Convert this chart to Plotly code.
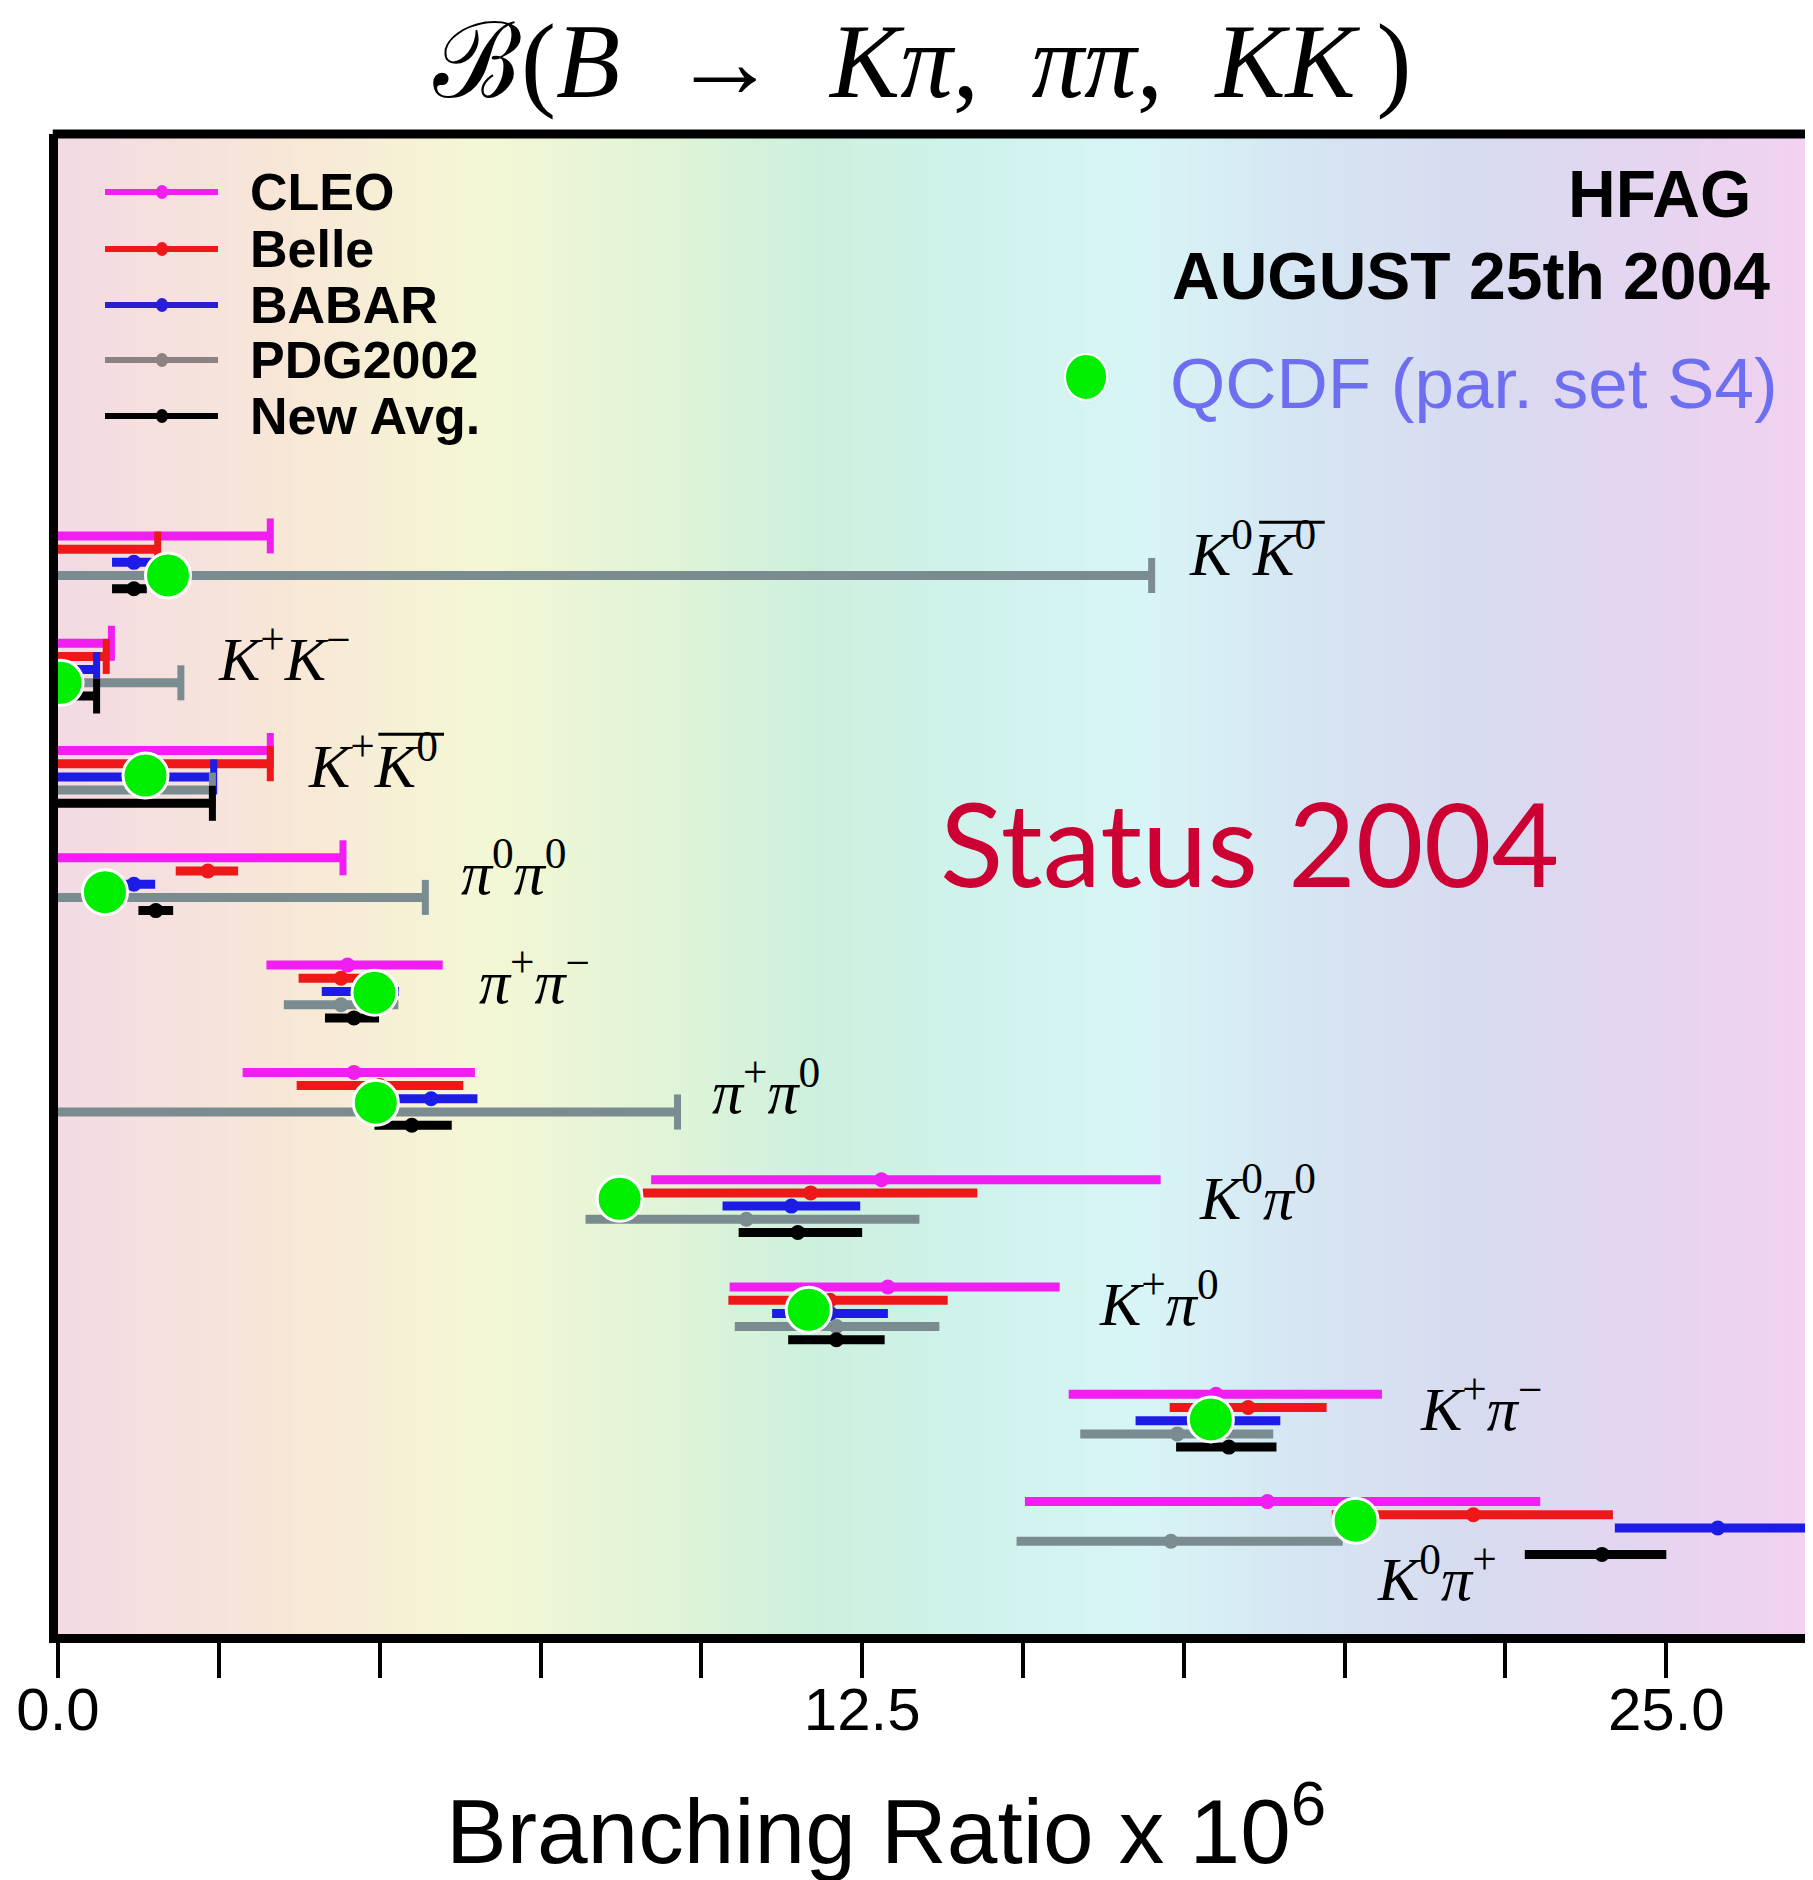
import numpy as np
import plotly.graph_objects as go

# ---------------- data ----------------
modes = ["K0K0bar", "K+K-", "K+K0bar", "pi0pi0", "pi+pi-", "pi+pi0",
         "K0pi0", "K+pi0", "K+pi-", "K0pi+"]
mode_labels = [
    "<i>K</i><sup>0</sup><i>K</i><sup>0</sup>",
    "<i>K</i><sup>+</sup><i>K</i><sup>−</sup>",
    "<i>K</i><sup>+</sup><i>K</i><sup>0</sup>",
    "<i>π</i><sup>0</sup><i>π</i><sup>0</sup>",
    "<i>π</i><sup>+</sup><i>π</i><sup>−</sup>",
    "<i>π</i><sup>+</sup><i>π</i><sup>0</sup>",
    "<i>K</i><sup>0</sup><i>π</i><sup>0</sup>",
    "<i>K</i><sup>+</sup><i>π</i><sup>0</sup>",
    "<i>K</i><sup>+</sup><i>π</i><sup>−</sup>",
    "<i>K</i><sup>0</sup><i>π</i><sup>+</sup>",
]
anti_k0_modes = [0, 2]          # labels whose second K0 carries a bar
experiments = ["CLEO", "Belle", "BABAR", "PDG2002", "New Avg."]

cleo_val = [None, None, None, None, 4.5, 4.6, 12.8, 12.9, 18.0, 18.8]
cleo_lo = [None, None, None, None, 1.26, 1.73, 3.58, 2.46, 2.29, 3.77]
cleo_hi = [None, None, None, None, 1.48, 1.88, 4.34, 2.67, 2.58, 4.24]
cleo_ul = [3.3, 0.83, 3.3, 4.43, None, None, None, None, None, None]

belle_val = [None, None, None, 2.33, 4.4, 5.0, 11.7, 12.0, 18.5, 22.0]
belle_lo = [None, None, None, 0.5, 0.66, 1.29, 2.61, 1.58, 1.22, 2.2]
belle_hi = [None, None, None, 0.47, 0.7, 1.3, 2.59, 1.83, 1.22, 2.17]
belle_ul = [1.55, 0.75, 3.3, None, None, None, None, None, None, None]

babar_val = [1.18, None, None, 1.18, 4.7, 5.8, 11.4, 12.0, 17.9, 25.8]
babar_lo = [0.34, None, None, 0.32, 0.6, 0.7, 1.07, 0.9, 1.15, 1.6]
babar_hi = [0.38, None, None, 0.33, 0.6, 0.72, 1.07, 0.9, 1.1, 1.6]
babar_ul = [None, 0.6, 2.42, None, None, None, None, None, None, None]

pdg_val = [None, None, None, None, 4.4, None, 10.7, 12.1, 17.4, 17.3]
pdg_lo = [None, None, None, None, 0.89, None, 2.5, 1.58, 1.51, 2.4]
pdg_hi = [None, None, None, None, 0.89, None, 2.69, 1.6, 1.49, 2.67]
pdg_ul = [17.0, 1.91, 2.4, 5.71, None, 9.63, None, None, None, None]

avg_val = [1.18, None, None, 1.52, 4.6, 5.5, 11.5, 12.1, 18.2, 24.0]
avg_lo = [0.34, None, None, 0.27, 0.45, 0.58, 0.92, 0.75, 0.82, 1.2]
avg_hi = [0.2, None, None, 0.27, 0.39, 0.62, 1.0, 0.75, 0.74, 1.0]
avg_ul = [None, 0.6, 2.4, None, None, None, None, None, None, None]

qcdf_val = [1.71, 0.04, 1.36, 0.73, 4.92, 4.94, 8.73, 11.67, 17.92, 20.17]

tick_vals = [0, 12.5, 25]
tick_text = ["0.0", "12.5", "25.0"]
minor_step = 2.5

# ---------------- layout helpers (placement / style) ----------------
ROW = 0.123                      # vertical spacing of rows within a group
qcdf_row = [3.0, 3.0, 1.9, 2.6, 2.1, 2.3, 1.45, 1.73, 1.9, 1.45]
label_x = [17.55, 2.46, 3.86, 6.24, 6.52, 10.13, 17.7, 16.15, 21.14, 20.47]
label_row = [1.0, 0.8, 0.8, 0.8, 0.9, 1.1, 1.0, 0.9, 0.7, 5.5]

colors = ["#f01ef0", "#ee1818", "#1c1ce6", "#7b8c90", "#000000"]
legend_colors = ["#f01ef0", "#ee1818", "#2a1fd0", "#8c8282", "#000000"]

series = [
    (cleo_val, cleo_lo, cleo_hi, cleo_ul),
    (belle_val, belle_lo, belle_hi, belle_ul),
    (babar_val, babar_lo, babar_hi, babar_ul),
    (pdg_val, pdg_lo, pdg_hi, pdg_ul),
    (avg_val, avg_lo, avg_hi, avg_ul),
]

XMAX = 27.28
YTOP = 3.746
YBOT = -10.234


def ypos(g, r):
    return -(g + r * ROW)


fig = go.Figure()

# background gradient
stops = [
    (0.0, "rgb(243,218,228)"), (0.138, "rgb(248,232,214)"), (0.241, "rgb(244,247,213)"),
    (0.343, "rgb(225,244,215)"), (0.432, "rgb(205,240,222)"), (0.514, "rgb(207,242,235)"),
    (0.616, "rgb(215,245,246)"), (0.719, "rgb(214,228,242)"), (0.821, "rgb(216,218,240)"),
    (0.924, "rgb(232,212,240)"), (1.0, "rgb(242,210,240)"),
]
bx = np.linspace(0, XMAX, 120)
fig.add_trace(go.Heatmap(
    x=bx, y=[YBOT - 1, YTOP + 1], z=[bx, bx], colorscale=stops,
    zmin=0, zmax=XMAX, showscale=False, hoverinfo="skip", zsmooth="best"))

for e, (vals, los, his, uls) in enumerate(series):
    lx, ly, px, py, cx, cy = [], [], [], [], [], []
    for g in range(len(modes)):
        y = ypos(g, e)
        if vals[g] is not None:
            lx += [vals[g] - los[g], vals[g] + his[g], None]
            ly += [y, y, None]
            px.append(vals[g]); py.append(y)
        elif uls[g] is not None:
            lx += [0, uls[g], None]
            ly += [y, y, None]
            cx.append(uls[g]); cy.append(y)
    fig.add_trace(go.Scatter(x=lx, y=ly, mode="lines",
                             line=dict(color=colors[e], width=9),
                             showlegend=False, hoverinfo="skip"))
    fig.add_trace(go.Scatter(x=cx, y=cy, mode="markers", showlegend=False,
                             marker=dict(symbol="line-ns", size=25,
                                         line=dict(color=colors[e], width=7))))
    fig.add_trace(go.Scatter(x=px, y=py, mode="markers", showlegend=False,
                             marker=dict(symbol="circle", size=15, color=colors[e])))

fig.add_trace(go.Scatter(
    x=qcdf_val, y=[ypos(g, qcdf_row[g]) for g in range(len(modes))],
    mode="markers", showlegend=False,
    marker=dict(symbol="circle", size=45, color="#00ee00",
                line=dict(color="white", width=3))))

shapes = []
# decay-mode labels
for g in range(len(modes)):
    fig.add_annotation(x=label_x[g], y=ypos(g, label_row[g]), text=mode_labels[g],
                       xref="x", yref="y", xanchor="left", yanchor="middle",
                       showarrow=False,
                       font=dict(family="Liberation Serif", size=62, color="black"))
for g in anti_k0_modes:
    yb = ypos(g, label_row[g]) + 0.25
    shapes.append(dict(type="line", xref="x", yref="y",
                       x0=label_x[g] + 1.12, x1=label_x[g] + 2.14, y0=yb, y1=yb,
                       line=dict(color="black", width=3)))

# ------------- figure geometry (screen px -> figure px; page body has 8px margin) -------------
OFF = 8
W, H = 1813 - OFF, 1880 - OFF
L, R, T, B = 50, 0, 126, 246
PW, PH = W - L - R, H - T - B


def px2paper(xs, ys):
    xf, yf = xs - OFF, ys - OFF
    return (xf - L) / PW, (H - B - yf) / PH


annots = []
# top frame line
shapes.append(dict(type="line", xref="paper", yref="paper", x0=-0.003, x1=1, y0=1, y1=1,
                   line=dict(color="black", width=9)))

# manual legend
leg_y = [192, 249, 305, 360, 416]
for i, name in enumerate(experiments):
    x0, y0 = px2paper(105, leg_y[i])
    x1, _ = px2paper(218, leg_y[i])
    xm, _ = px2paper(162, leg_y[i])
    shapes.append(dict(type="line", xref="paper", yref="paper", x0=x0, x1=x1, y0=y0, y1=y0,
                       line=dict(color=legend_colors[i], width=6)))
    shapes.append(dict(type="circle", xref="paper", yref="paper",
                       x0=xm - 6 / PW, x1=xm + 6 / PW, y0=y0 - 7 / PH, y1=y0 + 7 / PH,
                       fillcolor=legend_colors[i], line=dict(width=0)))
    tx, ty = px2paper(248, leg_y[i])
    annots.append(dict(x=tx, y=ty, xref="paper", yref="paper", text="<b>%s</b>" % name,
                       xanchor="left", yanchor="middle", showarrow=False,
                       font=dict(family="Liberation Sans", size=52, color="black")))

# HFAG text
hx, hy = px2paper(1753, 194)
annots.append(dict(x=hx, y=hy, xref="paper", yref="paper", text="<b>HFAG</b>",
                   xanchor="right", yanchor="middle", showarrow=False,
                   font=dict(family="Liberation Sans", size=66, color="black")))
ax_, ay_ = px2paper(1772, 276)
annots.append(dict(x=ax_, y=ay_, xref="paper", yref="paper", text="<b>AUGUST 25th 2004</b>",
                   xanchor="right", yanchor="middle", showarrow=False,
                   font=dict(family="Liberation Sans", size=66, color="black")))
qx, qy = px2paper(1168, 383)
annots.append(dict(x=qx, y=qy, xref="paper", yref="paper", text="QCDF (par. set S4)",
                   xanchor="left", yanchor="middle", showarrow=False,
                   font=dict(family="Liberation Sans", size=71, color="rgb(110,110,240)")))
gx, gy = px2paper(1086, 377)
shapes.append(dict(type="circle", xref="paper", yref="paper",
                   x0=gx - 21 / PW, x1=gx + 21 / PW, y0=gy - 23 / PH, y1=gy + 23 / PH,
                   fillcolor="#00ee00", line=dict(color="white", width=2)))

# Status 2004
sx, sy = px2paper(938, 842)
annots.append(dict(x=sx, y=sy, xref="paper", yref="paper", text="Status 2004",
                   xanchor="left", yanchor="middle", showarrow=False,
                   font=dict(family="Lato", size=117, color="#cc0033")))

# title
tx, ty = px2paper(922, 62)
annots.append(dict(x=tx, y=ty, xref="paper", yref="paper",
                   text="ℬ(<i>B</i>\u00a0 →\u00a0 <i>Kπ</i>,\u00a0 <i>ππ</i>,\u00a0 <i>KK</i>\u2009)",
                   xanchor="center", yanchor="middle", showarrow=False,
                   font=dict(family="Liberation Serif", size=105, color="black")))

# x axis title
xx, xy = px2paper(886, 1824)
annots.append(dict(x=xx, y=xy, xref="paper", yref="paper",
                   text="Branching Ratio x 10<sup>6</sup>",
                   xanchor="center", yanchor="middle", showarrow=False,
                   font=dict(family="Liberation Sans", size=91, color="black")))

fig.update_layout(
    width=W, height=H,
    margin=dict(l=L, r=R, t=T, b=B, pad=0),
    paper_bgcolor="white", plot_bgcolor="white",
    showlegend=False,
    shapes=shapes, annotations=list(fig.layout.annotations) + annots,
    xaxis=dict(range=[0, XMAX], showgrid=False, zeroline=False,
               showline=True, linecolor="black", linewidth=9,
               ticks="outside", ticklen=35, tickwidth=4, tickcolor="black",
               tickvals=tick_vals, ticktext=tick_text, ticklabelstandoff=-20,
               minor=dict(dtick=minor_step, tick0=0, ticks="outside", ticklen=35,
                          tickwidth=4, tickcolor="black", showgrid=False),
               tickfont=dict(family="Liberation Sans", size=60, color="black")),
    yaxis=dict(range=[YBOT, YTOP], showgrid=False, zeroline=False,
               showline=True, linecolor="black", linewidth=9,
               showticklabels=False, ticks=""),
)

fig.write_html("out.html")
